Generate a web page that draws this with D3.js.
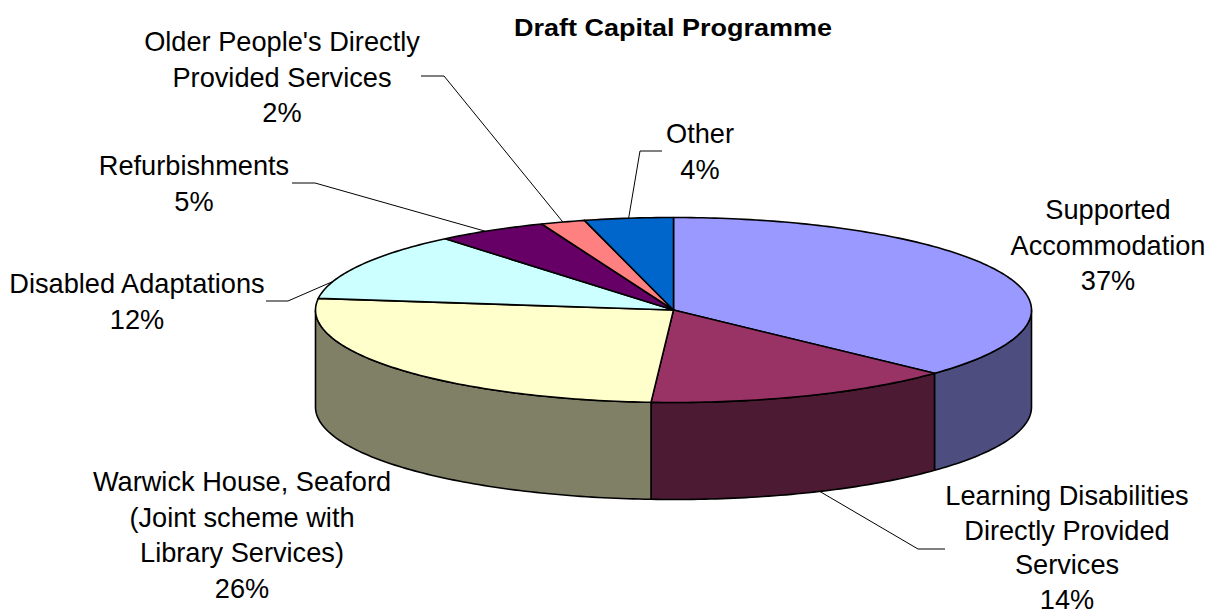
<!DOCTYPE html>
<html>
<head>
<meta charset="utf-8">
<script src="https://cdn.jsdelivr.net/npm/d3@7/dist/d3.min.js"></script>
<style>
  html, body { margin: 0; padding: 0; background: #fff; }
  svg { display: block; }
  text { font-family: "Liberation Sans", Arial, sans-serif; fill: #000; }
</style>
</head>
<body>
<svg id="chart" width="1208" height="615"></svg>
<script>
const chartTitle = "Draft Capital Programme";
const categories = [
  "Supported Accommodation",
  "Learning Disabilities Directly Provided Services",
  "Warwick House, Seaford (Joint scheme with Library Services)",
  "Disabled Adaptations",
  "Refurbishments",
  "Older People's Directly Provided Services",
  "Other"
];
const shares = [37, 14, 26, 12, 5, 2, 4];
const topColours = ["#9999FF", "#993366", "#FFFFCC", "#CCFFFF", "#660066", "#FF8080", "#0066CC"];
const wallColours = ["#4D4D80", "#4D1A33", "#808066", "#668080", "#330033", "#804040", "#003366"];

// Wrapped label lines and where each label block sits on the page.
const labelLines = [
  ["Supported", "Accommodation"],
  ["Learning Disabilities", "Directly Provided", "Services"],
  ["Warwick House, Seaford", "(Joint scheme with", "Library Services)"],
  ["Disabled Adaptations"],
  ["Refurbishments"],
  ["Older People's Directly", "Provided Services"],
  ["Other"]
];
const labelAnchors = [[1108, 219], [1067, 505], [242, 491], [137, 293], [194, 175], [282, 51], [700, 143]];
const labelLeading = [35.5, 34.6, 35.5, 35.5, 35.5, 35.5, 35.5];

// Leader lines: the point along the slice's rim, then elbow and end points (null = no leader).
const leaderRimFraction = [null, 0.45, null, 0.25, 0.44, 0.5, 0.5];
const leaderPaths = [
  null,
  [[918, 549], [945, 549]],
  null,
  [[288, 301], [266, 301]],
  [[315, 183], [292, 183]],
  [[444, 76], [421, 76]],
  [[640, 151], [662, 151]]
];

const svg = d3.select("#chart");
const x = d3.scaleLinear().domain([-1, 1]).range([315.5, 1031.5]);
const y = d3.scaleLinear().domain([-1, 1]).range([217.5, 402.5]);
const depth = 97;

const slices = d3.pie().sort(null).value(d => d)(shares);
const toPoint = (angle, drop = 0) => [x(Math.sin(angle)), y(-Math.cos(angle)) + drop];
const rim = (a0, a1, drop = 0) => {
  const n = Math.max(2, Math.ceil((a1 - a0) * 60));
  return d3.range(n + 1).map(i => toPoint(a0 + (a1 - a0) * i / n, drop));
};
const line = d3.line();
const closed = pts => line(pts) + "Z";

// Side walls: only the part of the rim facing the viewer.
const frontStart = Math.PI / 2, frontEnd = 3 * Math.PI / 2;
const walls = svg.append("g");
slices.forEach((s, i) => {
  const a0 = Math.max(s.startAngle, frontStart), a1 = Math.min(s.endAngle, frontEnd);
  if (a1 <= a0) return;
  walls.append("path")
    .attr("d", closed([...rim(a0, a1), ...rim(a0, a1, depth).reverse()]))
    .attr("fill", wallColours[i])
    .attr("stroke", "#000").attr("stroke-width", 1.6).attr("stroke-linejoin", "round");
});

// Top face of each slice.
const centre = [x(0), y(0)];
svg.append("g").selectAll("path").data(slices).join("path")
  .attr("d", s => closed([centre, ...rim(s.startAngle, s.endAngle)]))
  .attr("fill", (s, i) => topColours[i])
  .attr("stroke", "#000").attr("stroke-width", 1.6).attr("stroke-linejoin", "round");

// Leader lines from the rim out to the labels.
const leaders = svg.append("g").attr("fill", "none").attr("stroke", "#000").attr("stroke-width", 1);
slices.forEach((s, i) => {
  if (leaderPaths[i] === null) return;
  const a = s.startAngle + (s.endAngle - s.startAngle) * leaderRimFraction[i];
  const front = a > frontStart && a < frontEnd;
  leaders.append("path").attr("d", line([toPoint(a, front ? depth : 0), ...leaderPaths[i]]));
});

svg.append("text")
  .attr("x", 673).attr("y", 36)
  .attr("text-anchor", "middle")
  .attr("font-size", 23.5).attr("font-weight", "bold")
  .attr("textLength", 318).attr("lengthAdjust", "spacingAndGlyphs")
  .text(chartTitle);

// Category labels, each closing with its percentage.
categories.forEach((name, i) => {
  const [lx, ly] = labelAnchors[i];
  const t = svg.append("text").attr("text-anchor", "middle").attr("font-size", 27.2);
  [...labelLines[i], shares[i] + "%"].forEach((txt, j) => {
    t.append("tspan").attr("x", lx).attr("y", ly + j * labelLeading[i]).text(txt);
  });
  t.append("title").text(name);
});
</script>
</body>
</html>
